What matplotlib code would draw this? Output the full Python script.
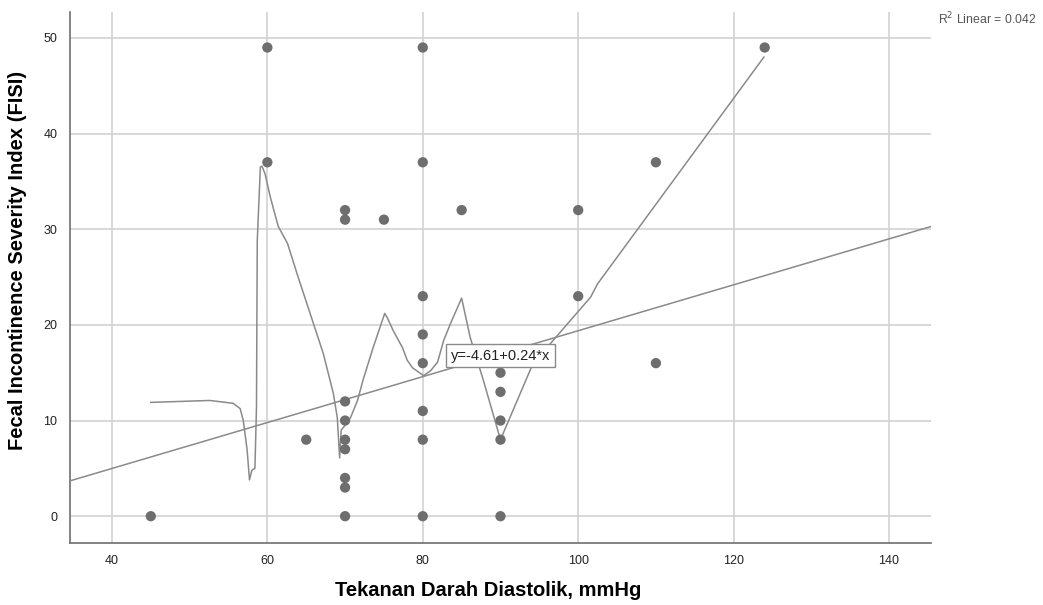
import numpy as np
import matplotlib
matplotlib.use("Agg")
import matplotlib.pyplot as plt

plt.rcParams['font.family'] = ['Liberation Sans', 'DejaVu Sans']

# observed points: diastolic pressure vs FISI score
diastolik = [45, 60, 60, 65,
             70, 70, 70, 70, 70, 70, 70, 70, 70,
             75,
             80, 80, 80, 80, 80, 80, 80, 80,
             85,
             90, 90, 90, 90, 90,
             100, 100, 110, 110, 124]
fisi = [0, 49, 37, 8,
        32, 31, 12, 10, 8, 7, 4, 3, 0,
        31,
        49, 37, 23, 19, 16, 11, 8, 0,
        32,
        15, 13, 10, 8, 0,
        32, 23, 37, 16, 49]

# linear fit as reported
intercept = -4.61
slope = 0.24
r2 = 0.042

# loess (kernel) curve
loess_x = [45.0, 52.6, 55.6, 56.5, 56.9, 57.4, 57.7, 58.0, 58.4, 58.6, 58.7,
           59.1, 59.3, 59.7, 60.4, 61.4, 62.6, 63.8, 65.5, 67.2, 68.5, 69.0,
           69.3, 69.5, 70.0, 70.7, 71.6, 72.3, 73.6, 75.1, 75.4, 76.2, 77.4,
           78.0, 78.7, 80.1, 81.0, 81.9, 82.7, 83.6, 85.0, 86.1, 87.8, 90.0,
           94.1, 96.8, 101.6, 102.5, 123.9]
loess_y = [11.9, 12.1, 11.8, 11.25, 10.0, 6.9, 3.8, 4.8, 5.0, 11.4, 28.8,
           36.5, 36.6, 35.8, 33.3, 30.3, 28.5, 25.4, 21.2, 17.0, 12.8, 10.3,
           6.1, 9.0, 9.5, 10.3, 12.1, 14.2, 17.6, 21.2, 20.8, 19.4, 17.6,
           16.3, 15.5, 14.7, 15.2, 16.1, 18.4, 20.2, 22.8, 18.7, 14.2, 8.0,
           15.8, 18.4, 22.9, 24.3, 48.0]

xlim = (34.6, 145.4)
ylim = (-2.8, 52.7)

fig = plt.figure(figsize=(10.43, 6.05), dpi=100)
ax = fig.add_axes([0.0671, 0.1025, 0.8255, 0.8775])

ax.set_xlim(*xlim)
ax.set_ylim(*ylim)
ax.set_xticks([40, 60, 80, 100, 120, 140])
ax.set_yticks([0, 10, 20, 30, 40, 50])
ax.grid(True, color='#d2d2d2', linewidth=1.2)
ax.set_axisbelow(True)
ax.tick_params(length=0, labelsize=9, colors='#222222', pad=9)

for s in ['top', 'right']:
    ax.spines[s].set_visible(False)
for s in ['left', 'bottom']:
    ax.spines[s].set_color('#6e6e6e')
    ax.spines[s].set_linewidth(1.2)

# fit line across the whole range
fx = np.array(xlim)
ax.plot(fx, intercept + slope * fx, color='#8a8a8a', linewidth=1.1, zorder=3)
ax.plot(loess_x, loess_y, color='#8a8a8a', linewidth=1.1, zorder=3)

ax.scatter(diastolik, fisi, s=55, color='#6e6e6e', edgecolors='none', zorder=4)

ax.text(90.0, 16.8, "y=-4.61+0.24*x", fontsize=10.5, ha='center', va='center',
        color='#222222', zorder=6,
        bbox=dict(boxstyle='square,pad=0.3', facecolor='white',
                  edgecolor='#8a8a8a', linewidth=1))

fig.text(0.899, 0.969, "R$^2$ Linear = %.3f" % r2, fontsize=8.8, color='#555555',
         ha='left', va='center')

ax.set_xlabel("Tekanan Darah Diastolik, mmHg", fontsize=14.5, fontweight='bold')
ax.set_ylabel("Fecal Incontinence Severity Index (FISI)", fontsize=14.5,
              fontweight='bold')
ax.xaxis.set_label_coords(0.4855, -0.071)
ax.yaxis.set_label_coords(-0.0495, 0.533)

fig.savefig("out.png", dpi=100)
